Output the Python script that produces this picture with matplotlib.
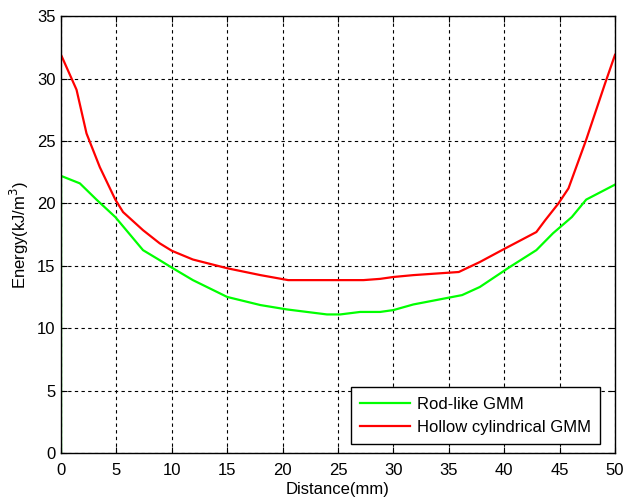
import matplotlib

matplotlib.use("Agg")
import matplotlib.pyplot as plt

# values
rod_x = [0, 0, 1.7, 3.2, 4.9, 7.4, 8.9, 10, 11.9, 15, 18, 20.4, 24, 25.2, 27, 28.8,
         30, 31.8, 36.2, 37.8, 40.5, 42.9, 44.4, 46.1, 47.4, 50]
rod_y = [0, 22.2, 21.6, 20.3, 18.9, 16.25, 15.45, 14.85, 13.85, 12.5, 11.85, 11.5, 11.1,
         11.1, 11.3, 11.3, 11.45, 11.9, 12.65, 13.3, 14.9, 16.25, 17.6, 18.9, 20.3, 21.5]

hollow_x = [0, 0.6, 1.4, 2.3, 3.5, 4.9, 5.6, 7.4, 8.9, 10, 11.9, 15, 18, 20.5, 24.9,
            27.3, 28.8, 30, 31.8, 35.9, 37.8, 39.9, 42.9, 43.7, 44.9, 45.8, 47.4, 49.1, 50]
hollow_y = [31.9, 30.7, 29.1, 25.6, 22.9, 20.3, 19.3, 17.85, 16.8, 16.2, 15.5, 14.8, 14.25,
            13.85, 13.85, 13.85, 13.95, 14.1, 14.25, 14.5, 15.3, 16.3, 17.7, 18.65, 20.0,
            21.2, 25.1, 29.6, 31.9]

plt.rcParams["font.family"] = ["Liberation Sans", "DejaVu Sans"]

fig = plt.figure(figsize=(6.24, 5.03), dpi=100)
ax = fig.add_axes([0.0978, 0.0994, 0.8878, 0.8686])

ax.plot(rod_x, rod_y, color="#00ff00", lw=1.6, label="Rod-like GMM")
ax.plot(hollow_x, hollow_y, color="#ff0000", lw=1.6, label="Hollow cylindrical GMM")

ax.set_xlim(0, 50)
ax.set_ylim(0, 35)
ax.set_xticks(range(0, 51, 5))
ax.set_yticks(range(0, 36, 5))
ax.grid(True, color="black", linestyle=(0, (3, 3)), linewidth=0.8)
ax.tick_params(direction="in", top=True, right=True, labelsize=12, length=4, pad=4)
ax.tick_params(axis="x", pad=7)
for s in ax.spines.values():
    s.set_linewidth(1.0)

ax.set_xlabel("Distance(mm)", fontsize=12, labelpad=3)
ax.set_ylabel("Energy(kJ/m$^3$)", fontsize=12, labelpad=4)

leg = ax.legend(loc="lower right", bbox_to_anchor=(0.973, 0.0206), borderaxespad=0,
                fontsize=12, handlelength=3.0, handletextpad=0.4, fancybox=False,
                framealpha=1, edgecolor="black", borderpad=0.55, labelspacing=0.5)
leg.get_frame().set_linewidth(1.0)

fig.savefig("out.png", dpi=100)
